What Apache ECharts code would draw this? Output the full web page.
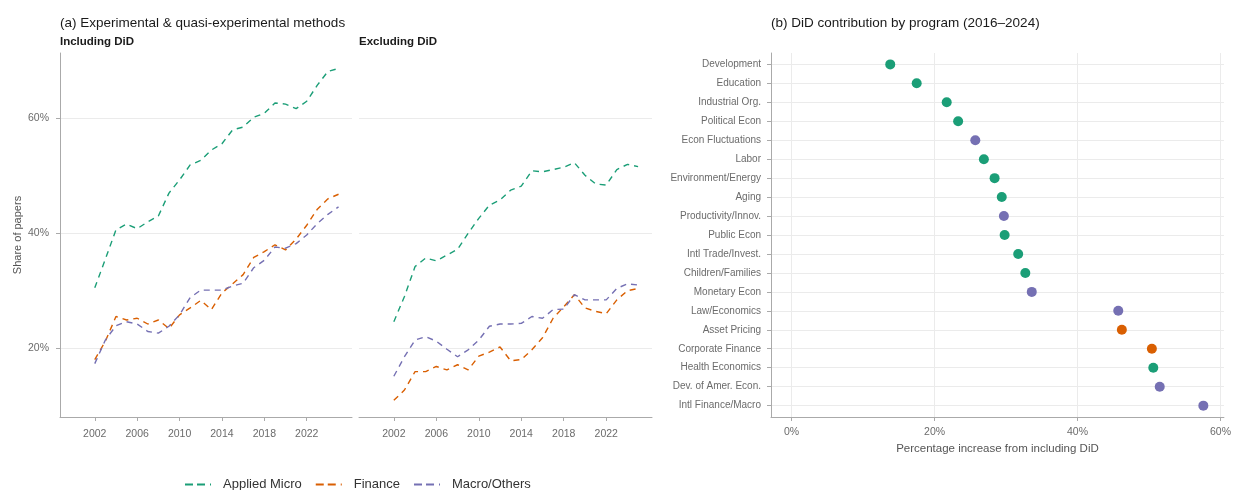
<!DOCTYPE html>
<html>
<head>
<meta charset="utf-8">
<script src="https://cdn.jsdelivr.net/npm/echarts@6/dist/echarts.min.js"></script>
<style>
html,body{margin:0;padding:0;background:#fff;}
#chart{width:1234px;height:490px;}
</style>
</head>
<body>
<div id="chart"></div>
<script>
// ---- Data ----
const years = [2002,2003,2004,2005,2006,2007,2008,2009,2010,2011,2012,2013,2014,2015,2016,2017,2018,2019,2020,2021,2022,2023,2024,2025];
const yearTicks = [2002,2006,2010,2014,2018,2022];
const shareTicks = [20,40,60];

// Including DiD
const appliedMicroIncl = [30.5,35.5,40.6,41.6,40.8,42.0,43.0,47.0,49.3,51.9,52.7,54.5,55.6,58.0,58.5,60.2,60.9,62.7,62.5,61.7,63.0,65.8,68.2,68.7];
const financeIncl      = [18.0,21.2,25.5,24.9,25.2,24.2,24.9,23.4,25.8,27.0,28.3,26.7,29.6,31.2,32.8,35.8,36.8,38.0,37.1,39.0,41.4,44.2,46.0,46.8];
const macroIncl        = [17.3,21.4,23.9,24.6,24.2,22.9,22.6,23.8,25.8,28.8,30.1,30.1,30.1,30.8,31.3,34.0,35.3,37.6,37.4,38.2,39.7,41.7,43.3,44.6];

// Excluding DiD
const appliedMicroExcl = [24.6,29.0,34.2,35.7,35.2,36.2,37.2,40.0,42.6,44.9,45.8,47.5,48.2,50.9,50.7,51.1,51.5,52.3,50.1,48.6,48.4,51.1,52.0,51.6];
const financeExcl      = [10.9,12.7,15.9,15.9,16.8,16.2,17.1,16.2,18.6,19.3,20.2,17.8,18.0,19.7,21.8,25.2,27.2,29.3,27.0,26.4,26.0,28.4,30.0,30.4];
const macroExcl        = [15.1,18.5,21.4,22.0,21.2,19.8,18.5,19.7,21.4,23.8,24.2,24.2,24.3,25.5,25.2,26.7,26.8,29.3,28.4,28.4,28.4,30.4,31.2,31.0];

// Panel (b)
const programs = ['Development','Education','Industrial Org.','Political Econ','Econ Fluctuations','Labor','Environment/Energy','Aging','Productivity/Innov.','Public Econ','Intl Trade/Invest.','Children/Families','Monetary Econ','Law/Economics','Asset Pricing','Corporate Finance','Health Economics','Dev. of Amer. Econ.','Intl Finance/Macro'];
const didIncrease = [13.8,17.5,21.7,23.3,25.7,26.9,28.4,29.4,29.7,29.8,31.7,32.7,33.6,45.7,46.2,50.4,50.6,51.5,57.6];
const programGroup = ['Applied Micro','Applied Micro','Applied Micro','Applied Micro','Macro/Others','Applied Micro','Applied Micro','Applied Micro','Macro/Others','Applied Micro','Applied Micro','Applied Micro','Macro/Others','Macro/Others','Finance','Finance','Applied Micro','Macro/Others','Macro/Others'];
const pctTicks = [0,20,40,60];

const groups = ['Applied Micro','Finance','Macro/Others'];
const colors = {'Applied Micro':'#1b9e77','Finance':'#d95f02','Macro/Others':'#7570b3'};

// ---- Chart ----
const FONT = 'Liberation Sans, Arial, sans-serif';
const chart = echarts.init(document.getElementById('chart'), null, {renderer:'canvas'});
const pair = (ys, vals) => ys.map((y,i)=>[y, vals[i]]);

const axisLineStyle = {show:true, onZero:false, lineStyle:{color:'#aaaaaa', width:1}};
const gridLine = {show:true, lineStyle:{color:'#ebebeb', width:1}};
const tickLabel = {color:'#6b6b6b', fontSize:10.5, fontFamily:FONT};
const tickStyle = {color:'#aaaaaa'};

const lineSeries = [];
const inclData = {'Applied Micro':appliedMicroIncl,'Finance':financeIncl,'Macro/Others':macroIncl};
const exclData = {'Applied Micro':appliedMicroExcl,'Finance':financeExcl,'Macro/Others':macroExcl};
[0,1].forEach(p=>{
  groups.forEach(g=>{
    lineSeries.push({
      name:g, type:'line', xAxisIndex:p, yAxisIndex:p,
      data: pair(years, p===0 ? inclData[g] : exclData[g]),
      symbol:'none', silent:true,
      lineStyle:{color:colors[g], width:1.4, type:[6,5]},
      itemStyle:{color:colors[g]}
    });
  });
});

const scatterSeries = groups.map(g=>({
  name:g+' dots', type:'scatter', xAxisIndex:2, yAxisIndex:2,
  symbolSize:10,
  itemStyle:{color:colors[g], opacity:1},
  data: programs.map((p,i)=> programGroup[i]===g ? [didIncrease[i], i] : null).filter(d=>d)
}));

const dashIcon = 'path://M0,0 L8,0 L8,2 L0,2 Z M12,0 L20,0 L20,2 L12,2 Z M25,0 L26,0 L26,2 L25,2 Z M32,0 L33,0 L33,0.01 L32,0.01 Z';

const option = {
  backgroundColor:'#ffffff',
  animation:false,
  textStyle:{fontFamily:FONT},
  title:[
    {text:'(a) Experimental & quasi-experimental methods', left:55, top:11, textStyle:{fontSize:13.5, fontWeight:'normal', color:'#1a1a1a', fontFamily:FONT}},
    {text:'Including DiD', left:55, top:31, textStyle:{fontSize:11.5, fontWeight:'bold', color:'#1a1a1a', fontFamily:FONT}},
    {text:'Excluding DiD', left:354, top:31, textStyle:{fontSize:11.5, fontWeight:'bold', color:'#1a1a1a', fontFamily:FONT}},
    {text:'(b) DiD contribution by program (2016–2024)', left:766, top:11, textStyle:{fontSize:13.5, fontWeight:'normal', color:'#1a1a1a', fontFamily:FONT}}
  ],
  legend:{
    data:groups.map(g=>({name:g, icon:dashIcon})), left:180, top:473, itemWidth:33, itemHeight:2, itemGap:14,
    textStyle:{fontSize:13, color:'#333', fontFamily:FONT}
  },
  grid:[
    {left:60, top:53, width:292, height:364},
    {left:359, top:53, width:293, height:364},
    {left:771, top:53, width:454.5, height:364}
  ],
  xAxis:[
    {type:'value', gridIndex:0, min:1998.72, max:2026.27,
     axisLine:axisLineStyle, axisTick:{show:true, length:4, lineStyle:tickStyle, customValues:yearTicks},
     axisLabel:Object.assign({customValues:yearTicks, formatter:v=>String(v), margin:12}, tickLabel),
     splitLine:{show:false}},
    {type:'value', gridIndex:1, min:1998.72, max:2026.31,
     axisLine:axisLineStyle, axisTick:{show:true, length:4, lineStyle:tickStyle, customValues:yearTicks},
     axisLabel:Object.assign({customValues:yearTicks, formatter:v=>String(v), margin:12}, tickLabel),
     splitLine:{show:false}},
    {type:'value', gridIndex:2, min:-2.88, max:60.48,
     axisLine:axisLineStyle, axisTick:{show:true, length:4, lineStyle:tickStyle, customValues:pctTicks},
     axisLabel:Object.assign({customValues:pctTicks, formatter:v=>v+'%', margin:10}, tickLabel),
     splitLine:gridLine,
     name:'Percentage increase from including DiD', nameLocation:'middle', nameGap:21,
     nameTextStyle:{fontSize:11.5, color:'#555', fontFamily:FONT}}
  ],
  yAxis:[
    {type:'value', gridIndex:0, min:8.0, max:71.4,
     axisLine:axisLineStyle, axisTick:{show:true, length:4, lineStyle:tickStyle, customValues:shareTicks},
     axisLabel:Object.assign({customValues:shareTicks, formatter:v=>v+'%', margin:11}, tickLabel),
     splitLine:gridLine,
     name:'Share of papers', nameLocation:'middle', nameGap:37, nameRotate:90,
     nameTextStyle:{fontSize:11, color:'#555', fontFamily:FONT}},
    {type:'value', gridIndex:1, min:8.0, max:71.4,
     axisLine:{show:false, onZero:false}, axisTick:{show:false, customValues:shareTicks},
     axisLabel:{show:false, customValues:shareTicks},
     splitLine:gridLine},
    {type:'value', gridIndex:2, min:-0.6, max:18.6, inverse:true,
     axisLine:axisLineStyle, axisTick:{show:true, length:4, lineStyle:tickStyle, customValues:programs.map((p,i)=>i)},
     axisLabel:Object.assign({customValues:programs.map((p,i)=>i), formatter:v=>programs[v] || '', margin:10}, tickLabel, {fontSize:10}),
     splitLine:gridLine}
  ],
  series: lineSeries.concat(scatterSeries)
};
chart.setOption(option);
</script>
</body>
</html>
